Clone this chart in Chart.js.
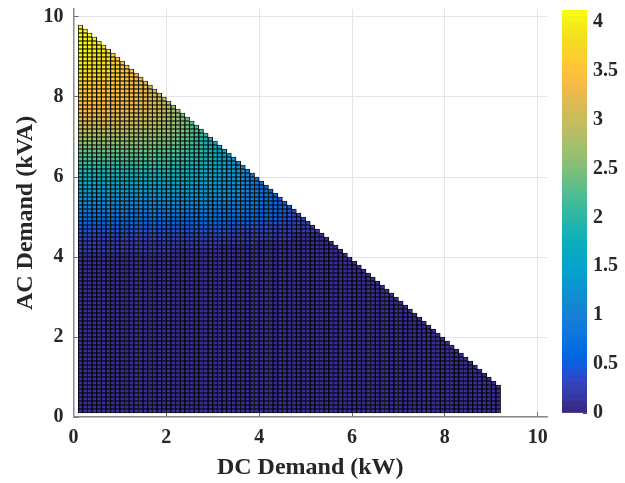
<!DOCTYPE html>
<html>
<head>
<meta charset="utf-8">
<script src="https://cdn.jsdelivr.net/npm/chart.js@4.4.1/dist/chart.umd.min.js"></script>
<style>
  body { margin: 0; background: #fff; }
  #wrap { position: relative; width: 625px; height: 483px; overflow: hidden; }
  #mainChart { position: absolute; left: 0; top: 0; }
  #barChart { position: absolute; left: 545px; top: 0; }
</style>
</head>
<body>
<div id="wrap">
  <canvas id="mainChart" width="560" height="483"></canvas>
  <canvas id="barChart" width="80" height="483"></canvas>
</div>
<script>
// surface grid: cells of 0.1 kW x 0.1 kVA
var cellStep = 0.1;
var firstCellX = 0.1;   // left edge of the first column (kW)
var firstRowTop = 9.8;  // top edge of the first row (kVA), rows go down from here

// rows are run-length coded, top row first.
// letter = value (A = 0.0, B = 0.1 ... p = 4.1), number = how many cells in a row
var valueLetters = "ABCDEFGHIJKLMNOPQRSTUVWXYZabcdefghijklmnop";
var zRows = [
  "p1", "p2", "p3", "p3o1", "p3o2", "p3o2n1",
  "p2o3n1m1", "o3n3m1l1", "o2n3m2l1k1",
  "o2n3m2l2k1", "n4m3l2k1j1",
  "n2m4l3k2j1", "m4l4k3j1i1",
  "m2l4k4j2i1h1", "l3k5j3i2h1g1", "l2k5j4i2h1g1f1",
  "k5j5i3h1g1f1e1", "k4j6i3h2g1f1e1",
  "j6i5h3g2f1e1d1", "j5i6h3g2f1e1d1c1",
  "i7h5g3f2e1d1c1b1", "i6h5g3f2e2d1c1b1a1",
  "h7g5f3e2d2c1b1a1Z1", "g8f5e3d2c2b1a1Z1Y1",
  "f9e5d3c2b2a1Z1Y1X1", "e10d5c3b2a2Z1Y1X1W1",
  "d11c5b3a2Z2Y1X1W1V1", "c12b5a3Z2Y2X1W1V1U1",
  "b13a4Z3Y2X2W1V1U1T2", "a14Z4Y3X2W2V1U1T1S1R1",
  "Z15Y4X3W2V2U1T1S1R1Q1", "Y16X4W3V2U2T1S1R1Q1P1",
  "X17W4V3U2T2S1R1Q1P1O1", "W18V4U3T2S2R1Q1P1O1N1",
  "V19U4T3S2R2Q1P1O1N1M1", "U20T4S3R2Q2P1O1N1M1L1",
  "T21S4R3Q2P2O1N1M1L1K1", "S22R4Q3P2O2N1M1L1K1J1",
  "R23Q4P3O2N2M1L1K1J1I1", "Q24P4O3N2M2L1K1J1I1H1",
  "P25O4N3M2L2K1J1I1H1G1", "O26N5M3L2K2J1I1H1G1",
  "N27M5L3K2J2I2H1G1", "M28L5K3J2I2H2G1F1",
  "L28K6J4I2H2G2F1", "K28J7I4H2G2F2E1",
  "J29I7H4G3F2E2", "I29H8G4F3E2D2",
  "H30G8F5E4D2", "G30F9E5D4C2",
  "F32E9D6C4", "E33D10C9", "D34C12B7", "D30C16B8",
  "C38B17", "C30B26", "C20B37", "B58",
  "B59", "B60", "B61", "B62", "B63", "B64", "B65", "B66", "B67", "B68",
  "B69", "B70", "B71", "B72", "B73", "B74", "B75", "B76", "B77", "B78",
  "B79", "B80", "B81", "B82", "B83", "B84", "B85", "B86", "B87", "B88",
  "B89", "B90",
  "B91", "B91", "B91", "B91", "B91", "B91", "B91"
];

var xTicks = [0, 2, 4, 6, 8, 10];
var yTicks = [0, 2, 4, 6, 8, 10];
var cbTicks = [0, 0.5, 1, 1.5, 2, 2.5, 3, 3.5, 4];
var axisMax = 10.2;
var colorLimits = [0, 4.12];

// parula, 64 steps
var parula = [
  [53,42,135],[54,48,147],[54,55,160],[53,61,173],[50,67,186],[44,74,199],[32,83,212],[15,92,221],
  [3,99,225],[2,104,225],[4,109,224],[8,113,222],[13,117,220],[16,121,218],[18,125,216],[20,129,214],
  [20,133,212],[19,137,211],[16,142,210],[12,147,210],[9,152,209],[7,156,207],[6,160,205],[6,164,202],
  [6,167,198],[7,169,194],[10,172,190],[15,174,185],[21,177,180],[29,179,175],[37,181,169],[46,183,164],
  [56,185,158],[66,187,152],[77,188,146],[89,189,140],[101,190,134],[113,191,128],[124,191,123],[135,191,119],
  [146,191,115],[156,191,111],[165,190,107],[174,190,103],[183,189,100],[192,188,96],[200,188,93],[209,187,89],
  [217,186,86],[225,185,82],[233,185,78],[241,185,74],[248,187,68],[253,190,61],[255,195,55],[254,200,50],
  [252,206,46],[250,211,42],[247,216,38],[245,222,33],[245,228,29],[245,235,24],[246,243,19],[249,251,14]
].map(function(c){ return 'rgb(' + c.join(',') + ')'; });

function colorFor(z) {
  var i = Math.floor((z - colorLimits[0]) / (colorLimits[1] - colorLimits[0]) * parula.length);
  return parula[Math.max(0, Math.min(parula.length - 1, i))];
}

// unpack the rows into one floating bar per cell
var cells = [];
zRows.forEach(function(row, r){
  var yTop = firstRowTop - r * cellStep;
  var col = 0;
  row.match(/[A-Za-z]\d+/g).forEach(function(run){
    var z = valueLetters.indexOf(run[0]) / 10;
    var count = parseInt(run.slice(1), 10);
    for (var c = 0; c < count; c++) {
      cells.push({ x: firstCellX + (col + 0.5) * cellStep, y: [yTop - cellStep, yTop], z: z });
      col++;
    }
  });
});

var textColor = '#262626';
var tickFont = { family: 'Liberation Serif', size: 20, weight: 'bold' };
var titleFont = { family: 'Liberation Serif', size: 24, weight: 'bold' };

function fixedTicks(values) {
  return function(axis){ axis.ticks = values.map(function(v){ return { value: v }; }); };
}

new Chart(document.getElementById('mainChart'), {
  type: 'bar',
  data: {
    datasets: [{
      data: cells,
      backgroundColor: cells.map(function(c){ return colorFor(c.z); }),
      borderColor: '#000',
      borderWidth: 0.9,
      borderSkipped: false,
      categoryPercentage: 1,
      barPercentage: 1,
      grouped: false
    }]
  },
  options: {
    responsive: false,
    animation: false,
    events: [],
    layout: { padding: { left: 0, right: 13, top: 9, bottom: 0 } },
    plugins: { legend: { display: false }, tooltip: { enabled: false } },
    scales: {
      x: {
        type: 'linear', min: 0, max: axisMax, offset: false,
        // negative tick length: MATLAB style ticks pointing into the axes
        grid: { color: '#e4e4e4', offset: false, drawTicks: true, tickLength: -5, tickColor: '#6a6a6a' },
        border: { color: '#8a8a8a', width: 1.5 },
        ticks: { padding: 14, color: textColor, font: tickFont, maxRotation: 0,
                 callback: function(v){ return String(v); } },
        afterBuildTicks: fixedTicks(xTicks),
        afterFit: function(s){ s.height = 66; s.paddingLeft = 0; s.paddingRight = 0; },
        title: { display: true, text: 'DC Demand (kW)', color: textColor, font: titleFont,
                 padding: { top: 0, bottom: 1 } }
      },
      y: {
        type: 'linear', min: 0, max: axisMax,
        grid: { color: '#e4e4e4', drawTicks: true, tickLength: -5, tickColor: '#6a6a6a' },
        border: { color: '#8a8a8a', width: 1.5 },
        ticks: { padding: 15, color: textColor, font: tickFont,
                 callback: function(v){ return String(v); } },
        afterBuildTicks: fixedTicks(yTicks),
        afterFit: function(s){ s.width = 73.5; s.paddingTop = 0; s.paddingBottom = 0; },
        title: { display: true, text: 'AC Demand (kVA)', color: textColor, font: titleFont,
                 padding: { top: 11, bottom: 0 } }
      }
    }
  }
});

// colour bar: one floating bar per colormap step, plus a frame
var step = (colorLimits[1] - colorLimits[0]) / parula.length;
var cbSets = parula.map(function(col, i){
  return {
    data: [[colorLimits[0] + i * step, colorLimits[0] + (i + 1) * step]],
    backgroundColor: col, borderWidth: 0,
    categoryPercentage: 1, barPercentage: 1, grouped: false
  };
});
cbSets.push({
  data: [colorLimits.slice()],
  backgroundColor: 'rgba(0,0,0,0)', borderColor: '#8a8a8a', borderWidth: 1,
  borderSkipped: false, categoryPercentage: 1, barPercentage: 1, grouped: false
});

new Chart(document.getElementById('barChart'), {
  type: 'bar',
  data: { labels: [''], datasets: cbSets },
  options: {
    responsive: false,
    animation: false,
    events: [],
    layout: { padding: { left: 17, right: 0, top: 10, bottom: 70 } },
    plugins: { legend: { display: false }, tooltip: { enabled: false } },
    scales: {
      x: { display: false },
      y: {
        position: 'right', min: colorLimits[0], max: colorLimits[1], z: 1,
        grid: { display: true, drawOnChartArea: false, drawTicks: true, tickLength: -4, tickColor: '#4a4a4a' },
        border: { display: false },
        ticks: { padding: 10, color: textColor, font: tickFont,
                 callback: function(v){ return String(v); } },
        afterBuildTicks: fixedTicks(cbTicks),
        afterFit: function(s){ s.width = 38; s.paddingTop = 0; s.paddingBottom = 0; }
      }
    }
  }
});
</script>
</body>
</html>
